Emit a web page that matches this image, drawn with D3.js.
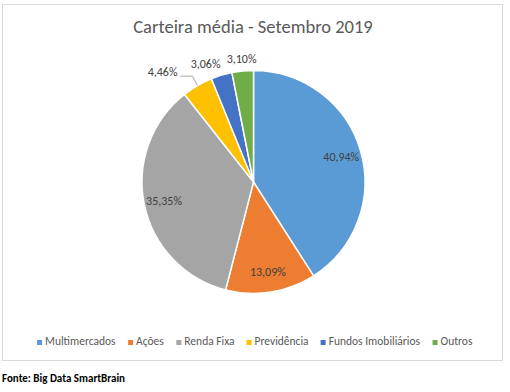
<!DOCTYPE html>
<html><head><meta charset="utf-8">
<script src="https://cdn.jsdelivr.net/npm/d3@7"></script>
<style>body{margin:0;background:#fff;} svg{display:block;font-family:Carlito,Calibri,Lato,"Open Sans",sans-serif;}</style>
</head><body>
<svg id="chart" width="510" height="392"></svg>
<script>
const categories = ["Multimercados","Ações","Renda Fixa","Previdência","Fundos Imobiliários","Outros"];
const values = [40.94,13.09,35.35,4.46,3.06,3.10];
const valueLabels = ["40,94%","13,09%","35,35%","4,46%","3,06%","3,10%"];
const colors = ["#5B9BD5","#ED7D31","#A5A5A5","#FFC000","#4472C4","#70AD47"];
const title = "Carteira média - Setembro 2019";
const source = "Fonte: Big Data SmartBrain";

const svg = d3.select("#chart");
svg.append("rect").attr("x",2.5).attr("y",4.5).attr("width",500).attr("height",356)
  .attr("fill","#fff").attr("stroke","#D9D9D9").attr("stroke-width",1);

svg.append("text").attr("x",253).attr("y",33).attr("text-anchor","middle")
  .attr("font-size",18.5).attr("fill","#595959").text(title);

const cx = 253.5, cy = 182, r = 111.5;
const g = svg.append("g").attr("transform",`translate(${cx},${cy})`);
const pie = d3.pie().sort(null).value(d=>d.v);
const data = pie(categories.map((c,i)=>({c, v:values[i], i})));
const arc = d3.arc().innerRadius(0).outerRadius(r);
g.selectAll("path").data(data).join("path").attr("d",arc)
  .attr("fill",d=>colors[d.data.i]).attr("stroke","#fff").attr("stroke-width",1.5);

const fs = 12;
const mid = d=>(d.startAngle+d.endAngle)/2;
const inside = data.filter(d=>d.data.v>10);
const outside = data.filter(d=>d.data.v<=10);
const inArc = d3.arc().innerRadius(r*0.82).outerRadius(r*0.82);
g.selectAll("text.in").data(inside).join("text").attr("class","in")
  .attr("transform",d=>`translate(${inArc.centroid(d)})`)
  .attr("text-anchor","middle").attr("dy","0.35em").attr("font-size",fs).attr("fill","#404040")
  .text(d=>valueLabels[d.data.i]);

const lw = 33, gap = 3;
const outs = outside.map(d=>{const a=mid(d), rr=r+11; return {d, a, x:Math.sin(a)*rr, y:-Math.cos(a)*rr-1, nx:Math.sin(a)*rr};})
  .sort((a,b)=>b.a-a.a);
let prevLeft = null;
outs.forEach(o=>{
  if(prevLeft!==null && o.x+lw/2 > prevLeft-gap){ o.x = prevLeft-gap-lw/2; }
  prevLeft = o.x-lw/2;
});
outs.forEach(o=>{
  const shift = o.nx-o.x;
  if(shift>20){ o.x -= 7; o.y -= 3; o.leader=true; }
});
outs.forEach(o=>{
  g.append("text").attr("x",o.x).attr("y",o.y).attr("text-anchor","middle").attr("dy","0.35em")
    .attr("font-size",fs).attr("fill","#404040").text(valueLabels[o.d.data.i]);
  if(o.leader){
    const ex = Math.sin(o.a)*r, ey = -Math.cos(o.a)*r;
    const sx = o.x+lw/2+1, sy = o.y+4;
    g.append("polyline").attr("points",`${sx},${sy} ${ex-5},${sy} ${ex},${ey}`)
      .attr("fill","none").attr("stroke","#A6A6A6").attr("stroke-width",1);
  }
});

const legY = 341, lfs = 11.5;
const lg = svg.append("g");
const items = lg.selectAll("g").data(categories).join("g");
items.append("rect").attr("width",5).attr("height",5).attr("y",-5).attr("fill",(d,i)=>colors[i]);
items.append("text").attr("x",8).attr("y",0).attr("font-size",lfs).attr("fill","#595959").text(d=>d);
const widths = items.nodes().map(n=>n.getBBox().width);
const sp = 12;
const total = d3.sum(widths)+sp*(widths.length-1);
let x0 = 255 - total/2;
items.attr("transform",(d,i)=>{const t=`translate(${x0},${legY+4})`; x0+=widths[i]+sp; return t;});

svg.append("text").attr("x",2).attr("y",382).attr("font-size",11).attr("font-weight","bold").attr("fill","#000").text(source);
</script>
</body></html>
